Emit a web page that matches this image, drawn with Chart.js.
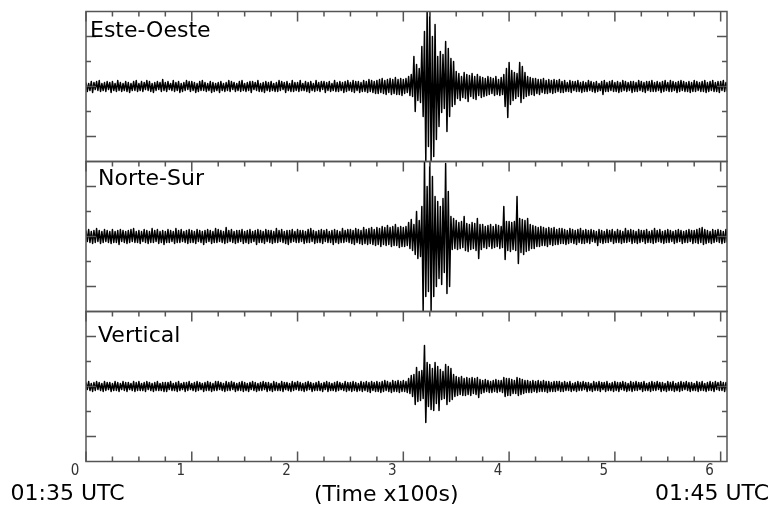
<!DOCTYPE html>
<html>
<head>
<meta charset="utf-8">
<script src="https://cdn.jsdelivr.net/npm/chart.js@4.4.1/dist/chart.umd.min.js"></script>
<style>
  body { margin: 0; background: #fff; }
  #wrap { position: relative; width: 774px; height: 510px; overflow: hidden; }
  canvas { position: absolute; left: 0; }
  .lbl { position: absolute; font-family: "DejaVu Sans", sans-serif; font-size: 22px; line-height: 22px; color: #000; white-space: nowrap; }
</style>
</head>
<body>
<div id="wrap">
  <canvas id="ew" width="774" height="170" style="top:0px"></canvas>
  <canvas id="ns" width="774" height="170" style="top:150px"></canvas>
  <canvas id="ve" width="774" height="210" style="top:300px"></canvas>
  <div class="lbl" style="left:90px;top:18.5px">Este-Oeste</div>
  <div class="lbl" style="left:98px;top:166.5px">Norte-Sur</div>
  <div class="lbl" style="left:98px;top:323.5px">Vertical</div>
  <div class="lbl" style="left:10.5px;top:481.5px">01:35 UTC</div>
  <div class="lbl" style="left:314px;top:482.5px">(Time x100s)</div>
  <div class="lbl" style="left:655px;top:481.5px">01:45 UTC</div>
</div>
<script>
// seismogram traces, one sample every 0.0125 (x100 s), amplitude
const sampleStep = 0.0125;
const timeTicks = [0, 1, 2, 3, 4, 5, 6];
const timeMax = 6.06;
const ampTicks = [-50, -25, 0, 25, 50];

const esteOeste = [
  // 0 - 3.0
  4,-5,3,-4,5,-6,4,-3,5,-4,6,-5,3,-4,4,-5,5,-3,4,-6,
  5,-4,3,-5,6,-4,4,-5,3,-4,5,-5,4,-6,3,-4,5,-4,6,-5,
  3,-4,5,-5,4,-3,6,-4,5,-5,3,-6,4,-4,5,-3,4,-5,7,-4,
  4,-5,5,-3,3,-4,6,-5,4,-4,5,-6,3,-5,4,-4,6,-3,5,-5,
  5,-4,4,-6,3,-5,5,-4,6,-4,4,-5,3,-4,5,-6,4,-5,3,-4,
  4,-6,5,-4,3,-5,4,-4,6,-5,5,-3,4,-5,3,-4,5,-5,6,-4,
  3,-5,4,-4,5,-6,5,-3,4,-4,6,-5,3,-5,4,-6,5,-4,4,-5,
  5,-4,3,-5,4,-5,6,-4,5,-3,4,-6,5,-4,3,-5,6,-5,4,-4,
  4,-5,6,-4,3,-4,5,-5,4,-6,5,-4,3,-5,6,-4,4,-5,5,-3,
  5,-6,4,-4,5,-5,3,-4,6,-5,4,-5,5,-4,4,-6,5,-5,6,-4,
  4,-5,6,-6,5,-4,5,-6,4,-5,6,-5,5,-6,7,-5,6,-6,5,-7,
  6,-7,7,-6,8,-7,6,-8,7,-6,8,-8,7,-7,9,-8,7,-8,8,-9,
  // 3.0 - 4.5
  7,-7,8,-6,10,-9,12,-10,30,-25,22,-14,18,-16,40,-30,55,-76,76,-60,
  76,-76,50,-70,62,-53,30,-40,35,-26,32,-22,45,-45,38,-30,28,-20,25,-18,
  15,-12,13,-14,10,-11,14,-12,12,-15,11,-10,13,-12,10,-13,12,-9,10,-11,
  9,-10,8,-9,10,-8,9,-7,8,-9,10,-8,7,-9,9,-8,12,-20,18,-31,
  24,-18,16,-14,14,-12,13,-10,24,-16,20,-12,14,-10,10,-9,9,-8,8,-9,
  8,-7,7,-8,7,-6,8,-7,6,-7,7,-6,6,-7,7,-6,6,-5,7,-6,
  // 4.5 - end
  5,-6,6,-5,4,-5,6,-6,5,-4,5,-5,6,-5,4,-6,5,-5,4,-5,
  6,-4,5,-5,4,-6,5,-5,3,-4,5,-8,6,-5,4,-5,5,-4,6,-5,
  4,-5,5,-6,4,-5,6,-4,5,-5,4,-4,5,-6,5,-5,4,-5,6,-4,
  5,-5,4,-6,5,-4,5,-5,6,-5,4,-5,5,-4,4,-6,5,-5,6,-4,
  4,-5,6,-5,5,-4,4,-6,5,-5,6,-4,5,-5,4,-5,5,-6,4,-5,
  6,-5,5,-4,4,-5,5,-5,6,-6,4,-5,5,-4,6,-5,4,-5,5,-6,
  5,-4,6,-5,4,-5
];

const norteSur = [
  // 0 - 3.0
  6,-5,7,-6,5,-7,6,-6,8,-5,6,-7,5,-6,7,-5,6,-6,5,-7,
  7,-6,5,-6,6,-8,7,-5,6,-6,5,-7,6,-6,7,-5,8,-6,5,-6,
  6,-7,5,-5,7,-6,6,-7,5,-6,8,-6,6,-5,7,-7,5,-6,6,-8,
  5,-6,7,-6,6,-5,5,-7,8,-6,6,-6,7,-5,5,-6,6,-7,7,-6,
  6,-6,5,-7,7,-5,6,-6,5,-8,6,-6,7,-5,6,-7,5,-6,8,-6,
  7,-5,6,-6,5,-7,9,-6,6,-5,7,-6,5,-7,6,-6,6,-5,7,-7,
  5,-6,6,-7,7,-6,5,-5,6,-8,7,-6,6,-6,5,-7,7,-5,6,-6,
  6,-7,5,-6,8,-6,6,-5,7,-6,5,-7,6,-8,6,-6,7,-5,5,-6,
  7,-6,6,-5,6,-7,5,-6,7,-6,8,-5,6,-7,5,-6,6,-6,7,-7,
  6,-5,7,-6,5,-6,6,-8,7,-6,6,-7,5,-6,8,-6,6,-5,7,-6,
  7,-7,6,-8,8,-6,7,-7,6,-8,9,-7,7,-8,8,-7,9,-8,7,-9,
  9,-8,8,-10,10,-8,9,-9,11,-8,9,-10,10,-9,12,-9,9,-11,10,-10,
  // 3.0 - 4.5
  9,-10,10,-9,14,-12,17,-14,12,-18,25,-22,16,-20,30,-76,76,-60,50,-55,
  76,-76,60,-60,40,-50,35,-42,30,-48,38,-36,73,-57,45,-50,20,-13,18,-12,
  16,-13,14,-12,15,-11,20,-14,13,-15,12,-13,14,-12,13,-14,18,-22,12,-13,
  12,-11,10,-12,11,-10,12,-12,10,-11,12,-10,11,-12,10,-11,30,-23,15,-14,
  15,-15,14,-13,15,-14,40,-27,18,-16,17,-18,16,-15,18,-14,12,-12,11,-12,
  10,-10,9,-10,10,-9,9,-9,8,-10,9,-8,8,-9,9,-8,7,-8,8,-7,
  // 4.5 - end
  8,-7,7,-8,6,-7,8,-6,7,-7,6,-8,7,-6,8,-7,6,-7,7,-6,
  6,-7,7,-5,6,-6,5,-9,7,-6,6,-7,5,-6,7,-6,6,-5,7,-7,
  5,-6,7,-6,6,-7,5,-6,8,-6,6,-5,7,-7,6,-6,5,-7,7,-6,
  6,-5,6,-7,7,-6,5,-6,6,-7,8,-6,6,-5,7,-6,5,-7,6,-6,
  7,-6,6,-5,5,-7,6,-6,7,-5,6,-7,5,-6,6,-6,7,-5,6,-7,
  6,-6,7,-7,8,-6,9,-8,7,-7,6,-6,5,-7,7,-6,6,-5,7,-6,
  6,-7,5,-6,7,-6
];

const vertical = [
  // 0 - 3.0
  4,-3,5,-4,3,-5,4,-4,5,-3,4,-4,3,-5,5,-4,4,-3,4,-5,
  3,-4,5,-4,4,-5,3,-3,5,-4,4,-5,4,-3,3,-4,5,-5,4,-4,
  5,-4,3,-4,4,-5,5,-3,4,-4,3,-5,4,-4,5,-4,3,-4,4,-5,
  4,-5,4,-3,5,-4,3,-4,4,-5,5,-4,3,-3,4,-5,4,-4,5,-3,
  3,-4,4,-5,5,-4,4,-3,3,-5,4,-4,5,-4,4,-5,3,-4,5,-4,
  5,-3,4,-4,3,-5,5,-4,4,-4,5,-3,4,-5,3,-4,4,-4,5,-5,
  4,-4,3,-5,4,-3,5,-4,4,-5,3,-4,4,-4,5,-3,4,-5,4,-4,
  3,-5,5,-4,4,-4,3,-4,5,-5,4,-3,4,-4,3,-5,5,-4,4,-3,
  5,-4,4,-4,3,-5,4,-4,5,-3,4,-5,3,-4,4,-4,5,-4,3,-5,
  4,-3,5,-5,4,-4,3,-4,4,-5,5,-4,4,-3,3,-4,5,-5,4,-4,
  4,-5,5,-4,4,-5,3,-4,5,-5,4,-4,5,-5,4,-6,5,-4,4,-5,
  5,-5,4,-6,5,-5,6,-4,5,-5,4,-6,6,-5,5,-5,6,-6,5,-5,
  // 3.0 - 4.5
  6,-5,5,-6,8,-7,11,-10,12,-18,19,-15,15,-14,16,-12,41,-36,24,-20,
  22,-23,18,-24,24,-17,20,-24,17,-13,15,-12,22,-18,20,-15,18,-13,12,-10,
  10,-9,9,-8,10,-9,8,-9,9,-8,8,-9,9,-7,8,-8,9,-11,7,-7,
  6,-6,7,-5,6,-6,5,-6,6,-5,7,-6,6,-5,6,-6,9,-10,8,-9,
  8,-9,7,-7,6,-7,9,-9,8,-8,7,-7,6,-6,6,-6,5,-6,6,-5,
  5,-6,6,-5,5,-5,6,-5,5,-6,5,-5,4,-5,5,-5,5,-4,5,-5,
  // 4.5 - end
  4,-5,5,-4,4,-4,5,-5,3,-4,4,-5,5,-4,4,-4,5,-3,4,-5,
  4,-4,3,-5,5,-4,4,-4,5,-5,4,-3,4,-5,5,-4,3,-4,4,-5,
  5,-4,4,-5,4,-3,5,-4,4,-5,3,-4,5,-5,4,-4,5,-4,4,-3,
  4,-5,5,-4,3,-4,4,-5,5,-4,4,-4,5,-3,4,-5,4,-4,3,-5,
  5,-4,4,-4,5,-5,3,-4,4,-5,5,-4,4,-3,5,-4,4,-5,4,-4,
  3,-4,5,-5,4,-4,5,-4,3,-5,4,-4,5,-4,4,-5,5,-3,4,-4,
  5,-4,4,-5,4,-4
];

// frame with inward ticks, like the original plot
const frameTicks = {
  id: "frameTicks",
  afterDraw(chart, args, opts) {
    const ctx = chart.ctx, a = chart.chartArea;
    const xs = chart.scales.x, ys = chart.scales.y;
    ctx.save();
    ctx.strokeStyle = "#555";
    ctx.lineWidth = 1.5;
    ctx.strokeRect(a.left, a.top, a.right - a.left, a.bottom - a.top);
    ctx.beginPath();
    for (let v = 0; v <= timeMax; v += 0.25) {
      const px = xs.getPixelForValue(v);
      const len = Math.abs(v - Math.round(v)) < 1e-6 ? 10 : 5;
      ctx.moveTo(px, a.top);
      ctx.lineTo(px, a.top + len);
      if (opts.bottom) {
        ctx.moveTo(px, a.bottom);
        ctx.lineTo(px, a.bottom - len);
      }
    }
    ampTicks.forEach((v) => {
      const py = ys.getPixelForValue(v);
      const len = v % 50 === 0 ? 10 : 5;
      ctx.moveTo(a.left, py);
      ctx.lineTo(a.left + len, py);
      ctx.moveTo(a.right, py);
      ctx.lineTo(a.right - len, py);
    });
    ctx.stroke();
    ctx.restore();
  },
};

function makeTrace(id, values, bottom) {
  const points = values.map((v, i) => ({ x: i * sampleStep, y: v }));
  return new Chart(document.getElementById(id), {
    type: "line",
    data: {
      datasets: [{
        data: points,
        borderColor: "#000",
        borderWidth: 1.5,
        borderJoinStyle: "round",
        pointRadius: 0,
        tension: 0,
      }],
    },
    options: {
      responsive: false,
      animation: false,
      events: [],
      layout: {
        padding: { left: 86, right: 47, top: 11.5, bottom: bottom ? 18.5 : 8.5 },
      },
      plugins: {
        legend: { display: false },
        tooltip: { enabled: false },
        frameTicks: { bottom: bottom },
      },
      scales: {
        x: {
          type: "linear",
          min: 0,
          max: timeMax,
          display: bottom,
          grid: { display: false, drawTicks: false },
          border: { display: false },
          afterBuildTicks: (s) => { s.ticks = timeTicks.map((v) => ({ value: v })); },
          afterFit: (s) => { if (bottom) s.height = 30; },
          ticks: {
            padding: 1,
            labelOffset: -11,
            color: "#333",
            font: { family: "'DejaVu Sans Condensed', 'Liberation Sans Narrow', sans-serif", size: 15 },
          },
        },
        y: {
          min: -75,
          max: 75,
          display: false,
        },
      },
    },
    plugins: [frameTicks],
  });
}

makeTrace("ew", esteOeste, false);
makeTrace("ns", norteSur, false);
makeTrace("ve", vertical, true);
</script>
</body>
</html>
